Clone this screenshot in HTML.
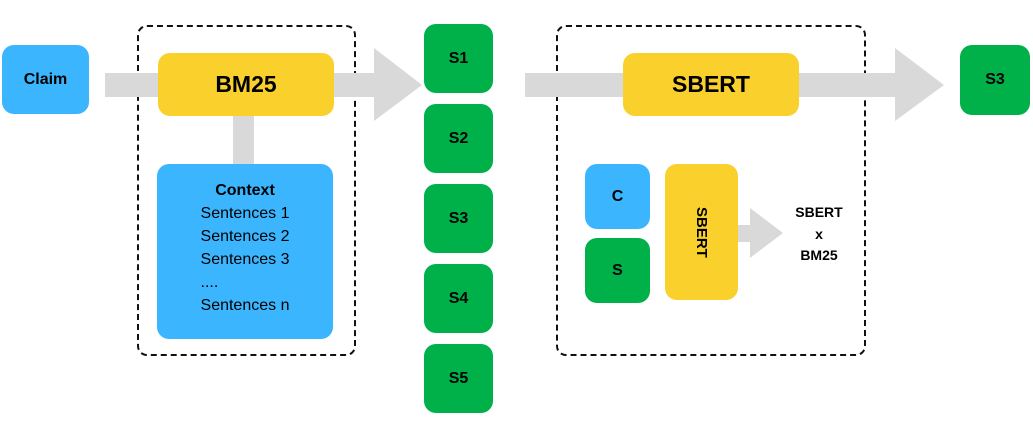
<!DOCTYPE html>
<html><head><style>
body{margin:0;width:1033px;height:421px;background:#fff;position:relative;overflow:hidden;font-family:"Liberation Sans",sans-serif;}
div{position:absolute;box-sizing:border-box;}
.b{display:flex;align-items:center;justify-content:center;font-weight:bold;color:#000;border-radius:12px;}
.g{background:#00b14a;font-size:16px;}
.y{background:#fad12c;}
.bl{background:#3bb6fe;}
.gr{background:#d9d9d9;}
.d{border:2px dashed #111;border-radius:10px;}
</style></head><body>
<div class="d" style="left:137px;top:25px;width:219px;height:331px"></div>
<div class="d" style="left:556px;top:25px;width:310px;height:331px"></div>
<div class="gr" style="left:105px;top:73px;width:270px;height:24px"></div>
<svg style="position:absolute;left:0;top:0" width="1033" height="421">
<polygon points="374,48 422,85 374,121" fill="#d9d9d9"/>
<polygon points="895,48 944,85 895,121" fill="#d9d9d9"/>
<polygon points="750,208 783,233 750,258" fill="#d9d9d9"/>
</svg>
<div class="gr" style="left:525px;top:73px;width:372px;height:24px"></div>
<div class="gr" style="left:233px;top:112px;width:21px;height:56px"></div>
<div class="gr" style="left:736px;top:225px;width:16px;height:17px"></div>
<div class="b bl" style="left:2px;top:45px;width:87px;height:69px;font-size:16px">Claim</div>
<div class="b y" style="left:158px;top:53px;width:176px;height:63px;font-size:23px">BM25</div>
<div class="b y" style="left:623px;top:53px;width:176px;height:63px;font-size:23px">SBERT</div>
<div class="b bl" style="left:157px;top:164px;width:176px;height:175px;flex-direction:column;font-weight:normal;font-size:16px;line-height:23px;padding-bottom:8px"><b>Context</b>Sentences 1<br>Sentences 2<br>Sentences 3<br>....<br>Sentences n</div>
<div class="b g" style="left:424px;top:24px;width:69px;height:69px">S1</div>
<div class="b g" style="left:424px;top:104px;width:69px;height:69px">S2</div>
<div class="b g" style="left:424px;top:184px;width:69px;height:69px">S3</div>
<div class="b g" style="left:424px;top:264px;width:69px;height:69px">S4</div>
<div class="b g" style="left:424px;top:344px;width:69px;height:69px">S5</div>
<div class="b g" style="left:960px;top:45px;width:70px;height:70px">S3</div>
<div class="b bl" style="left:585px;top:164px;width:65px;height:65px;font-size:16px">C</div>
<div class="b g" style="left:585px;top:238px;width:65px;height:65px">S</div>
<div class="b y" style="left:665px;top:164px;width:73px;height:136px;font-size:15px"><span style="writing-mode:vertical-rl">SBERT</span></div>
<div style="left:780px;top:202px;width:78px;text-align:center;font-weight:bold;font-size:14px;line-height:21.5px">SBERT<br>x<br>BM25</div>
</body></html>
